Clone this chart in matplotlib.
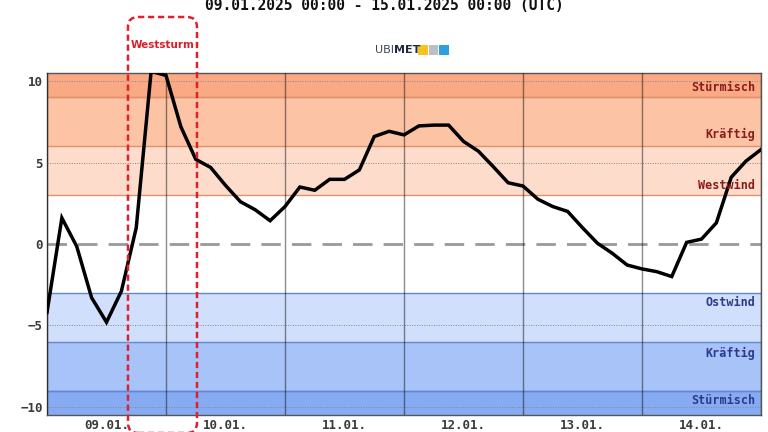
import numpy as np
import pandas as pd
import matplotlib
matplotlib.use("Agg")
import matplotlib.pyplot as plt
import matplotlib.dates as mdates
from matplotlib.patches import FancyBboxPatch, Rectangle
from matplotlib.transforms import IdentityTransform

# wind index, 3-hourly values from 09.01.2025 00:00 to 15.01.2025 00:00 UTC
values = [-4.2, 1.6, -0.15, -3.3, -4.8, -2.9, 1.0, 10.6, 10.35,
          7.2, 5.2, 4.7, 3.6, 2.6, 2.1, 1.43, 2.3,
          3.5, 3.3, 3.97, 3.97, 4.55, 6.6, 6.92, 6.7,
          7.25, 7.3, 7.3, 6.3, 5.7, 4.75, 3.76, 3.56,
          2.75, 2.3, 2.0, 1.0, 0.05, -0.57, -1.29, -1.53,
          -1.7, -2.0, 0.1, 0.3, 1.3, 4.1, 5.1, 5.8]
times = pd.date_range("2025-01-09 00:00", periods=len(values), freq="3h")

# bands: (lower, upper, colour, label, label y)
west_bands = [(3, 6, "#fddccb", "Westwind", 3.6),
              (6, 9, "#fcc3a5", "Kräftig", 6.7),
              (9, 10.5, "#f9a983", "Stürmisch", 9.6)]
east_bands = [(-6, -3, "#cfdffc", "Ostwind", -3.6),
              (-9, -6, "#a7c3f8", "Kräftig", -6.7),
              (-10.5, -9, "#87abf2", "Stürmisch", -9.6)]

storm_start = pd.Timestamp("2025-01-09 16:20")
storm_end = pd.Timestamp("2025-01-10 06:15")

fig = plt.figure(figsize=(7.68, 4.32), dpi=100)
ax = fig.add_axes([47 / 768, 1 - 415 / 432, 714 / 768, 342 / 432])

for lo, hi, col, lab, ly in west_bands:
    ax.axhspan(lo, hi, color=col, lw=0, zorder=0)
    ax.axhline(lo, color="#e0926e", lw=1, zorder=1)
    ax.text(0.992, ly, lab, transform=ax.get_yaxis_transform(), ha="right", va="center",
            family="DejaVu Sans Mono", weight="bold", fontsize=8.5, color="#8b1c1c", zorder=5)
ax.axhline(9, color="#e0926e", lw=1, zorder=1)
for lo, hi, col, lab, ly in east_bands:
    ax.axhspan(lo, hi, color=col, lw=0, zorder=0)
    ax.axhline(hi, color="#6485cf", lw=1, zorder=1)
    ax.text(0.992, ly, lab, transform=ax.get_yaxis_transform(), ha="right", va="center",
            family="DejaVu Sans Mono", weight="bold", fontsize=8.5, color="#2c3a8e", zorder=5)
ax.axhline(-9, color="#6485cf", lw=1, zorder=1)

for yv in [-10, -5, 5, 10]:
    ax.axhline(yv, color="#888888", lw=0.7, ls=(0, (1, 1.5)), zorder=1)
ax.axhline(0, color="#999999", lw=2, ls=(0, (7, 4)), zorder=2)

ax.plot(times, values, color="black", lw=2.5, zorder=4, solid_joinstyle="miter")

ax.set_xlim(times[0], times[-1])
ax.set_ylim(-10.5, 10.5)
ax.set_yticks([-10, -5, 0, 5, 10])
ax.xaxis.set_major_locator(mdates.DayLocator())
ax.xaxis.set_major_formatter(plt.NullFormatter())
ax.xaxis.set_minor_locator(mdates.HourLocator(byhour=[12]))
ax.xaxis.set_minor_formatter(mdates.DateFormatter("%d.%m."))
ax.grid(True, axis="x", which="major", color="black", alpha=0.45, lw=1, zorder=3)
ax.set_axisbelow(False)
ax.tick_params(axis="both", which="both", length=0, labelsize=9, labelcolor="#3a3a3a")
ax.tick_params(axis="x", which="minor", pad=3)
ax.tick_params(axis="y", pad=3)
for lab in ax.get_xticklabels(minor=True) + ax.get_yticklabels():
    lab.set_family("DejaVu Sans Mono")
    lab.set_weight("bold")
for sp in ax.spines.values():
    sp.set_color("#555555")
    sp.set_linewidth(1)

fig.text(0.5, 1 - 10 / 432, "09.01.2025 00:00 - 15.01.2025 00:00 (UTC)", ha="center",
         va="baseline", family="DejaVu Sans Mono", weight="bold", fontsize=10.5, color="#111111")

# logo
fig.text(394 / 768, 1 - 50 / 432, "UBI", ha="right", va="center", fontsize=8, color="#3a4450")
fig.text(394 / 768, 1 - 50 / 432, "MET", ha="left", va="center", fontsize=8,
         weight="bold", color="#1e2a45")
for i, c in enumerate(["#f6c21c", "#b8c0c8", "#2f9fe0"]):
    fig.add_artist(Rectangle(((418 + 10.5 * i) / 768, 1 - 55 / 432), 9.5 / 768, 10 / 432,
                             transform=fig.transFigure, color=c, lw=0))

# Weststurm box
fig.canvas.draw()
x0 = ax.transData.transform((mdates.date2num(storm_start), 0))[0]
x1 = ax.transData.transform((mdates.date2num(storm_end), 0))[0]
box = FancyBboxPatch((x0, -1), x1 - x0, 432 - 17 + 1,
                     boxstyle="round,pad=0,rounding_size=10", transform=IdentityTransform(),
                     fill=False, ec="#e0202f", lw=1.8, ls=(0, (2.5, 1.5)), clip_on=False, zorder=10)
fig.add_artist(box)
fig.text((x0 + x1) / 2 / 768, 1 - 45 / 432, "Weststurm", ha="center", va="center",
         fontsize=7.5, weight="bold", color="#d8202c")

fig.savefig("out.png", dpi=100)
